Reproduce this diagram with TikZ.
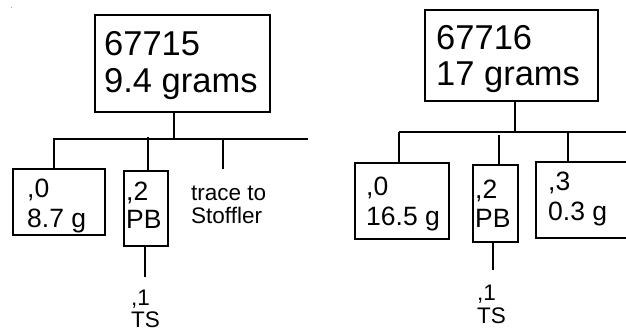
\documentclass[tikz,border=0pt]{standalone}
\usepackage{fontspec}
\setmainfont{Liberation Sans}
\begin{document}
\begin{tikzpicture}[x=1pt,y=-1pt,
  box/.style={draw,line width=1.6pt,inner sep=0pt,anchor=north west},
  conn/.style={line width=1.6pt},
  big/.style={inner sep=0pt,anchor=base west,font=\fontsize{34.5}{37}\selectfont},
  mid/.style={inner sep=0pt,anchor=base west,font=\fontsize{26.5}{30}\selectfont},
  small/.style={inner sep=0pt,anchor=base west,font=\fontsize{22.5}{24}\selectfont}]
\useasboundingbox (0,0) rectangle (626,332);
\clip (0,0) rectangle (626,332);
\fill[gray!70] (10.5,6.5) rectangle (11.5,7.5);
% ---------- left tree ----------
\node[box,minimum width=175pt,minimum height=97pt] (ltop) at (94,14) {};
\node[big] (lt1) at (104,55) {67715};
\node[big] (lt2) at (104,92) {9.4 grams};
\node[box,minimum width=92pt,minimum height=66pt] (l0) at (12,168) {};
\node[mid] (l0a) at (27,197) {,0};
\node[mid] (l0b) at (27,227) {8.7 g};
\node[box,minimum width=44pt,minimum height=75pt] (l2) at (123,170) {};
\node[mid] (l2a) at (126,200) {,2};
\node[mid] (l2b) at (126,228) {PB};
\node[small] (ltr1) at (191,200) {trace to};
\node[small] (ltr2) at (191,223) {Stoffler};
\node[small] (l1a) at (131,305) {,1};
\node[small] (l1b) at (131,327) {TS};
\coordinate (lj) at (174,139);
\coordinate (lbl) at (53,139);
\coordinate (lbr) at (308,139);
\coordinate (ld2) at (148,137);
\coordinate (ld3) at (223,139);
\coordinate (ld3e) at (223,169);
\coordinate (ls) at (145,277);
\draw[conn] (ltop.south -| lj) -- (lj);
\draw[conn] (lbl) -- (lbr);
\draw[conn] (54,139) -- (l0.north -| 54,0);
\draw[conn] (ld2) -- (l2.north -| ld2);
\draw[conn] (ld3) -- (ld3e);
\draw[conn] (l2.south -| ls) -- (ls);
% ---------- right tree ----------
\node[box,minimum width=173pt,minimum height=91pt] (rtop) at (424,9) {};
\node[big] (rt1) at (436,49) {67716};
\node[big] (rt2) at (436,85) {17 grams};
\node[box,minimum width=94pt,minimum height=76pt] (r0) at (354,162) {};
\node[mid] (r0a) at (366,195) {,0};
\node[mid] (r0b) at (366,225) {16.5 g};
\node[box,minimum width=45pt,minimum height=77pt] (r2) at (472,164) {};
\node[mid] (r2a) at (475,198) {,2};
\node[mid] (r2b) at (475,227) {PB};
\node[box,minimum width=110pt,minimum height=76pt] (r3) at (535,161) {};
\node[mid] (r3a) at (548,190) {,3};
\node[mid] (r3b) at (548,220) {0.3 g};
\node[small] (r1a) at (477,300) {,1};
\node[small] (r1b) at (477,323) {TS};
\coordinate (rj) at (515,132);
\coordinate (rbl) at (399,132);
\coordinate (rbr) at (630,132);
\coordinate (rd2) at (499,135);
\coordinate (rd3) at (568,132);
\coordinate (rs) at (493,270);
\draw[conn] (rtop.south -| rj) -- (rj);
\draw[conn] (rbl) -- (rbr);
\draw[conn] (rbl) -- (r0.north -| rbl);
\draw[conn] (rd2) -- (r2.north -| rd2);
\draw[conn] (rd3) -- (r3.north -| rd3);
\draw[conn] (r2.south -| rs) -- (rs);
\end{tikzpicture}
\end{document}
